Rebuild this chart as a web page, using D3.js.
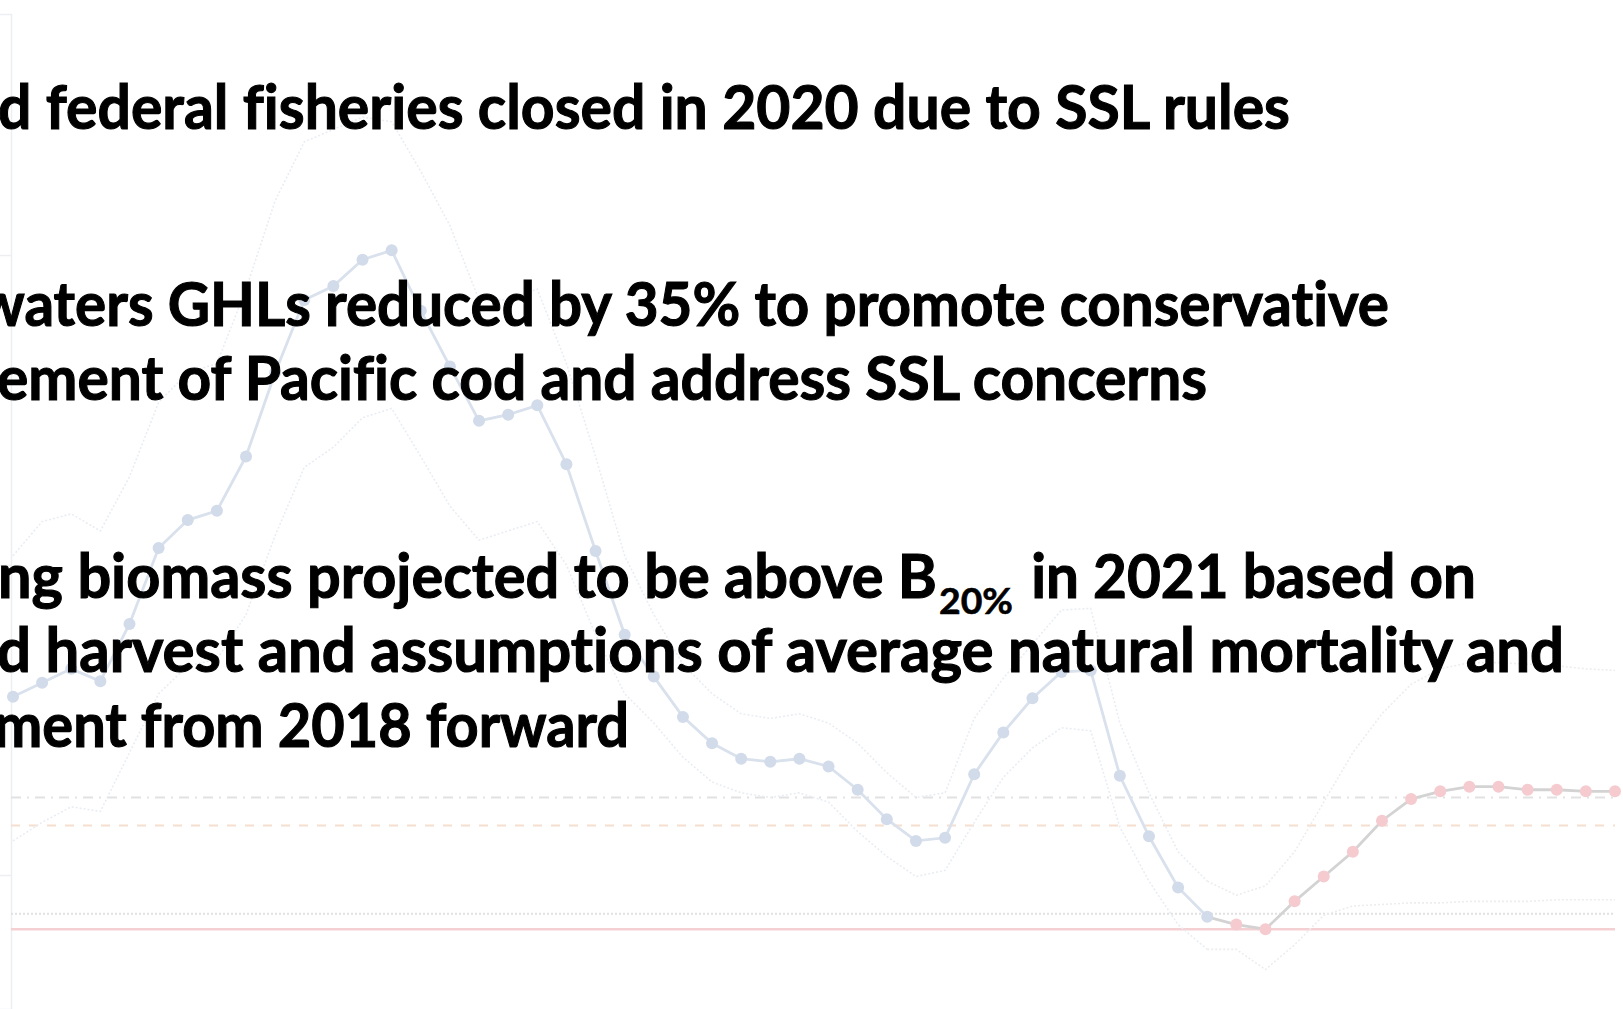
<!DOCTYPE html>
<html>
<head>
<meta charset="utf-8">
<script src="https://cdn.jsdelivr.net/npm/d3@7"></script>
<style>
    html, body { margin: 0; padding: 0; background: #fff; overflow: hidden; }
    svg { display: block; }
    text { font-variant-ligatures: none; font-feature-settings: "liga" 0, "clig" 0; }
</style>
</head>
<body>
<svg id="chart" width="1623" height="1009"></svg>
<script>
// spawning biomass (kt), estimated years
const histYears = [1977, 1978, 1979, 1980, 1981, 1982, 1983, 1984, 1985, 1986,
    1987, 1988, 1989, 1990, 1991, 1992, 1993, 1994, 1995, 1996,
    1997, 1998, 1999, 2000, 2001, 2002, 2003, 2004, 2005, 2006,
    2007, 2008, 2009, 2010, 2011, 2012, 2013, 2014, 2015, 2016,
    2017, 2018];
const spawnBiomass = [157.5, 162, 166.5, 162.5, 181, 205.5, 214.5, 217.5, 235, 262,
    285.5, 290, 298.5, 301.5, 282, 264, 246.5, 248.5, 251.5, 232.5,
    204.5, 177.5, 164, 151, 142.5, 137.5, 136.5, 137.5, 135, 127.5,
    118, 111, 112, 132.5, 146, 157, 165.5, 166, 132, 112.5,
    96, 86.5];
const spawnUpper = [203, 214, 216.5, 211, 228.5, 252.5, 262, 265, 289, 317.5,
    336.5, 340.5, 344.5, 343, 327, 309.5, 285.5, 285.5, 289, 265,
    235, 203, 184, 168, 158.5, 152, 150.5, 152, 149, 142.5,
    133, 125, 126.5, 150.5, 163.5, 174.5, 185.5, 186, 149, 126.5,
    107.5, 98];
const spawnLower = [111, 117, 122, 120.5, 139.5, 158.5, 167.5, 169.5, 184, 209.5,
    231.5, 238, 247.5, 250.5, 235, 219, 208, 211, 214, 200,
    177.5, 158.5, 149, 138, 130, 126.5, 125, 126.5, 123.5, 114,
    106, 99.5, 101.5, 117, 131.5, 141, 147.5, 146.5, 115.5, 98,
    84, 76];

// projection
const projYears = [2019, 2020, 2021, 2022, 2023, 2024, 2025, 2026, 2027, 2028,
    2029, 2030, 2031, 2032];
const projBiomass = [84, 82.5, 91.5, 99.5, 107.5, 117.5, 124.5, 127, 128.5, 128.5,
    127.5, 127.5, 127, 127];
const projUpper = [93.5, 96.5, 107.5, 123.5, 139.5, 152, 161.5, 166.5, 168.5, 168.5,
    168, 167.5, 166.5, 166];
const projLower = [76, 69.5, 77.5, 87, 90, 90.5, 91, 91, 91.5, 91.5,
    91.5, 92, 92, 92];

// reference levels
const refNames = ["Bmean", "B40%", "B25%", "B20%"];
const refValues = [125, 116, 87.5, 82.5];

const axisTicks = [100, 200, 300];

// slide text
const noteLines = [
    "d federal fisheries closed in 2020 due to SSL rules",
    "waters GHLs reduced by 35% to promote conservative",
    "ement of Pacific cod and address SSL concerns",
    "ng biomass projected to be above B",
    "20%",
    " in 2021 based on",
    "d harvest and assumptions of average natural mortality and",
    "ment from 2018 forward"
];

const svg = d3.select("#chart");
const width = 1623, height = 1009;

const x = d3.scaleLinear().domain([1977, 2032]).range([13, 1615]);
const y = d3.scaleLinear().domain([100, 300]).range([875, 255]);

// y axis (faded, labels off the slide)
const yAxisScale = y.copy().domain([y.invert(1009), y.invert(14)]).range([1009, 14]);
svg.append("g")
    .attr("transform", "translate(11,0)")
    .call(d3.axisLeft(yAxisScale).tickValues(axisTicks).tickSize(11).tickFormat(""))
    .call(g => g.selectAll("path, line").attr("stroke", "#eceef2").attr("stroke-width", 1.5));

// reference lines
const refStyle = {
    "Bmean": { color: "#e2e2e2", dash: "10,6,2,6", w: 2 },
    "B40%": { color: "#f6dfce", dash: "9,9", w: 2 },
    "B25%": { color: "#e1e1e1", dash: "2,2", w: 2 },
    "B20%": { color: "#f4d0d3", dash: null, w: 2.5 }
};
svg.append("g").selectAll("line")
    .data(refNames)
    .join("line")
    .attr("x1", 11)
    .attr("x2", x(2032))
    .attr("y1", (d, i) => y(refValues[i]))
    .attr("y2", (d, i) => y(refValues[i]))
    .attr("stroke", d => refStyle[d].color)
    .attr("stroke-width", d => refStyle[d].w)
    .attr("stroke-dasharray", d => refStyle[d].dash);

const hist = histYears.map((yr, i) => ({ yr, v: spawnBiomass[i], hi: spawnUpper[i], lo: spawnLower[i] }));
const last = hist[hist.length - 1];
const proj = [last].concat(projYears.map((yr, i) => ({ yr, v: projBiomass[i], hi: projUpper[i], lo: projLower[i] })));

const lineOf = key => d3.line().x(d => x(d.yr)).y(d => y(d[key]));

// confidence bounds
for (const key of ["hi", "lo"]) {
    svg.append("path").datum(hist)
        .attr("d", lineOf(key))
        .attr("fill", "none")
        .attr("stroke", "#e9edf3")
        .attr("stroke-width", 1.6)
        .attr("stroke-dasharray", "2,2");
    svg.append("path").datum(proj)
        .attr("d", lineOf(key))
        .attr("fill", "none")
        .attr("stroke", "#ededed")
        .attr("stroke-width", 1.6)
        .attr("stroke-dasharray", "2,2");
}

// estimated biomass
svg.append("path").datum(hist)
    .attr("d", lineOf("v"))
    .attr("fill", "none")
    .attr("stroke", "#d9e1ed")
    .attr("stroke-width", 2.8);
svg.append("path").datum(proj)
    .attr("d", lineOf("v"))
    .attr("fill", "none")
    .attr("stroke", "#d3d3d3")
    .attr("stroke-width", 2.8);

svg.append("g").selectAll("circle")
    .data(hist)
    .join("circle")
    .attr("cx", d => x(d.yr))
    .attr("cy", d => y(d.v))
    .attr("r", 6)
    .attr("fill", "#d2dbe9");
svg.append("g").selectAll("circle")
    .data(proj.slice(1))
    .join("circle")
    .attr("cx", d => x(d.yr))
    .attr("cy", d => y(d.v))
    .attr("r", 6)
    .attr("fill", "#f5cbcf");

// slide text, left edge cut off by the frame
const textLayout = [
    { x0: -2, x1: 1290, base: 129, size: 61 },
    { x0: -22, x1: 1389, base: 326, size: 61 },
    { x0: -3, x1: 1207, base: 400, size: 61 },
    { x0: -2, x1: 937, base: 598, size: 61 },
    { x0: 939, x1: 1013, base: 614, size: 37 },
    { x0: 1017, x1: 1476, base: 598, size: 61 },
    { x0: -3, x1: 1564, base: 672, size: 61 },
    { x0: -6, x1: 629, base: 747, size: 61 }
];
svg.append("g").selectAll("text")
    .data(noteLines)
    .join("text")
    .attr("x", (d, i) => textLayout[i].x0)
    .attr("y", (d, i) => textLayout[i].base)
    .attr("textLength", (d, i) => textLayout[i].x1 - textLayout[i].x0)
    .attr("lengthAdjust", "spacingAndGlyphs")
    .attr("font-family", "Lato, 'Open Sans', sans-serif")
    .attr("font-weight", 700)
    .attr("font-size", (d, i) => textLayout[i].size)
    .attr("fill", "#000")
    .attr("stroke", "#000")
    .attr("stroke-width", (d, i) => textLayout[i].size > 40 ? 1.1 : 0.6)
    .style("white-space", "pre")
    .text(d => d);
</script>
</body>
</html>
